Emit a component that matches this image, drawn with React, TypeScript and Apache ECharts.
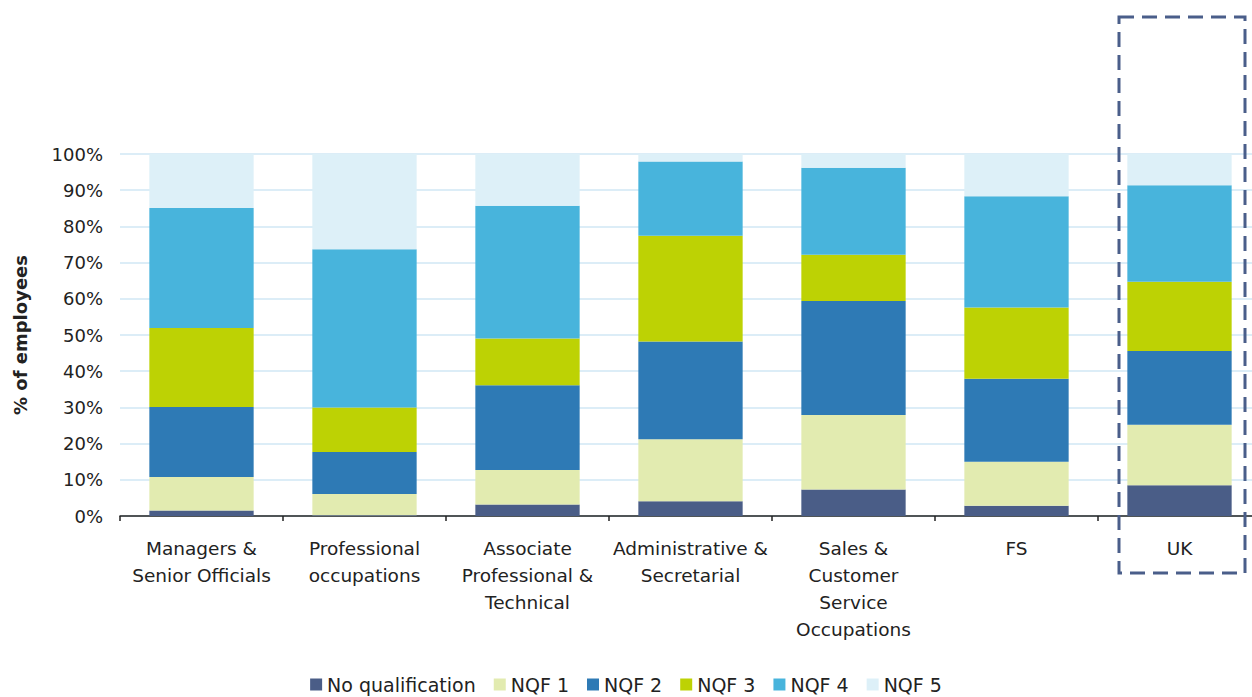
import React, { useEffect, useRef } from "react";
import * as echarts from "echarts";

const categories = [
  "Managers &\nSenior Officials",
  "Professional\noccupations",
  "Associate\nProfessional &\nTechnical",
  "Administrative &\nSecretarial",
  "Sales &\nCustomer\nService\nOccupations",
  "FS",
  "UK",
];

const noQualification = [1.5, 0.2, 3.2, 4.1, 7.3, 2.8, 8.5];
const nqf1 = [9.3, 5.9, 9.5, 17.1, 20.6, 12.2, 16.7];
const nqf2 = [19.3, 11.6, 23.4, 27.0, 31.5, 22.9, 20.4];
const nqf3 = [21.8, 12.3, 12.9, 29.2, 12.8, 19.7, 19.1];
const nqf4 = [33.2, 43.7, 36.7, 20.5, 24.0, 30.7, 26.7];
const nqf5 = [14.9, 26.3, 14.3, 2.1, 3.8, 11.7, 8.6];

const seriesNames = ["No qualification", "NQF 1", "NQF 2", "NQF 3", "NQF 4", "NQF 5"];
const seriesData = [noQualification, nqf1, nqf2, nqf3, nqf4, nqf5];
const seriesColors = ["#4a5d87", "#e2ebb0", "#2e7ab5", "#bdd204", "#48b4dc", "#ddf0f8"];

const FONT = "'DejaVu Sans', sans-serif";

export default function App() {
  const ref = useRef<HTMLDivElement>(null);
  useEffect(() => {
    if (!ref.current) return;
    const chart = echarts.init(ref.current, undefined, { renderer: "svg" });
    chart.setOption({
      animation: false,
      textStyle: { fontFamily: FONT },
      grid: { left: 120, top: 154, width: 1141, height: 362, outerBoundsMode: "none", containLabel: false },
      legend: {
        top: 670,
        left: "center",
        padding: 5,
        icon: "rect",
        itemWidth: 12,
        itemHeight: 12,
        itemGap: 18,
        textStyle: { fontSize: 19, color: "#222", fontFamily: FONT },
        data: seriesNames,
      },
      xAxis: {
        type: "category",
        data: categories,
        axisLine: { lineStyle: { color: "#222", width: 1.5 } },
        axisTick: { show: true, length: 5, lineStyle: { color: "#222", width: 1.5 } },
        axisLabel: {
          interval: 0,
          fontSize: 18.5,
          lineHeight: 27,
          color: "#222",
          margin: 19,
          fontFamily: FONT,
        },
      },
      yAxis: {
        type: "value",
        min: 0,
        max: 100,
        interval: 10,
        name: "% of employees",
        nameLocation: "middle",
        nameGap: 91,
        nameTextStyle: { fontSize: 18, fontWeight: "bold", color: "#222", fontFamily: FONT },
        axisLine: { show: false },
        axisTick: { show: false },
        axisLabel: {
          formatter: "{value}%",
          fontSize: 18,
          color: "#222",
          margin: 17,
          fontFamily: FONT,
        },
        splitLine: { lineStyle: { color: "#dcedf7", width: 2 } },
      },
      series: seriesNames.map((name, i) => ({
        name,
        type: "bar",
        stack: "total",
        barWidth: "64%",
        data: seriesData[i],
        itemStyle: { color: seriesColors[i] },
      })),
      graphic: [
        {
          type: "rect",
          shape: { x: 1119, y: 17, width: 126, height: 556 },
          style: { fill: "none", stroke: "#4a5e8a", lineWidth: 3, lineDash: [15, 8] },
          z: 100,
        },
      ],
    });
    return () => chart.dispose();
  }, []);
  return <div ref={ref} style={{ width: 1252, height: 697, position: "absolute", left: 0, top: 0 }} />;
}
